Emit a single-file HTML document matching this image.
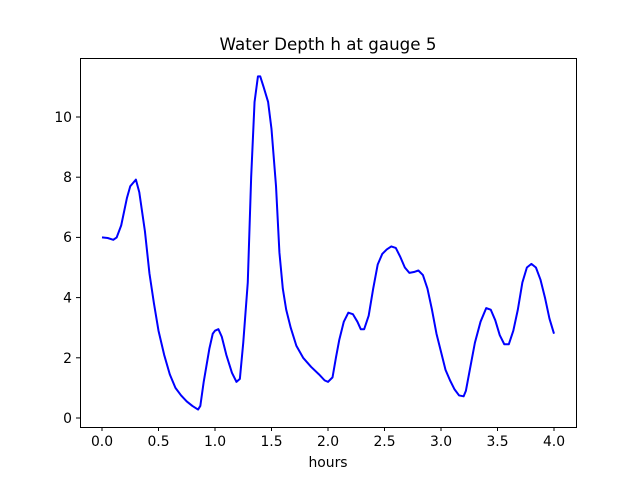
<!DOCTYPE html>
<html><head><style>
body{margin:0;background:#fff;}
text{font-family:"DejaVu Sans","Liberation Sans",sans-serif;fill:#000;}
</style></head><body>
<svg width="640" height="480" xmlns="http://www.w3.org/2000/svg">
<rect width="640" height="480" fill="#fff"/>
<g stroke="#000" stroke-width="1">
<line x1="102" y1="427.5" x2="102" y2="431"/><line x1="158.5" y1="427.5" x2="158.5" y2="431"/>
<line x1="215" y1="427.5" x2="215" y2="431"/><line x1="271.5" y1="427.5" x2="271.5" y2="431"/>
<line x1="328" y1="427.5" x2="328" y2="431"/><line x1="384.5" y1="427.5" x2="384.5" y2="431"/>
<line x1="441" y1="427.5" x2="441" y2="431"/><line x1="497.5" y1="427.5" x2="497.5" y2="431"/>
<line x1="554" y1="427.5" x2="554" y2="431"/>
<line x1="76" y1="418" x2="80" y2="418"/><line x1="76" y1="357.8" x2="80" y2="357.8"/>
<line x1="76" y1="297.6" x2="80" y2="297.6"/><line x1="76" y1="237.4" x2="80" y2="237.4"/>
<line x1="76" y1="177.2" x2="80" y2="177.2"/><line x1="76" y1="117" x2="80" y2="117"/>
</g>
<g font-size="13.9" text-anchor="middle">
<text x="102" y="446">0.0</text><text x="158.5" y="446">0.5</text><text x="215" y="446">1.0</text>
<text x="271.5" y="446">1.5</text><text x="328" y="446">2.0</text><text x="384.5" y="446">2.5</text>
<text x="441" y="446">3.0</text><text x="497.5" y="446">3.5</text><text x="554" y="446">4.0</text>
</g>
<g font-size="13.9" text-anchor="end">
<text x="72" y="423">0</text><text x="72" y="363">2</text><text x="72" y="302.5">4</text>
<text x="72" y="242">6</text><text x="72" y="182">8</text><text x="72" y="122">10</text>
</g>
<text x="328" y="467" font-size="13.9" text-anchor="middle">hours</text>
<text x="328" y="50" font-size="16.7" text-anchor="middle">Water Depth h at gauge 5</text>
<g transform="translate(102,418) scale(113,-30.1)">
<polyline fill="none" stroke="#0000ff" stroke-width="2" vector-effect="non-scaling-stroke" stroke-linejoin="round" points="0,6 0.05,5.98 0.1,5.92 0.13,6 0.17,6.4 0.22,7.3 0.25,7.7 0.3,7.92 0.33,7.5 0.38,6.2 0.42,4.8 0.46,3.8 0.5,2.9 0.55,2.1 0.6,1.45 0.65,1 0.7,0.75 0.75,0.55 0.8,0.4 0.85,0.28 0.87,0.4 0.9,1.2 0.95,2.3 0.98,2.8 1,2.9 1.03,2.95 1.06,2.7 1.1,2.1 1.15,1.5 1.19,1.2 1.22,1.3 1.25,2.5 1.29,4.5 1.32,8 1.35,10.5 1.38,11.35 1.4,11.35 1.43,11 1.47,10.5 1.5,9.6 1.54,7.7 1.57,5.5 1.6,4.3 1.63,3.6 1.67,3 1.72,2.4 1.78,2 1.85,1.7 1.92,1.45 1.97,1.25 2,1.2 2.04,1.35 2.07,2 2.1,2.6 2.14,3.2 2.18,3.5 2.22,3.45 2.26,3.2 2.29,2.95 2.32,2.95 2.36,3.4 2.4,4.3 2.44,5.1 2.48,5.45 2.52,5.6 2.56,5.7 2.6,5.65 2.64,5.35 2.68,5 2.72,4.82 2.76,4.85 2.8,4.9 2.84,4.75 2.88,4.3 2.92,3.6 2.96,2.8 3,2.2 3.04,1.6 3.08,1.25 3.12,0.95 3.16,0.75 3.2,0.72 3.22,0.9 3.25,1.5 3.3,2.5 3.35,3.2 3.4,3.65 3.44,3.6 3.48,3.25 3.52,2.75 3.56,2.45 3.6,2.45 3.64,2.9 3.68,3.6 3.72,4.5 3.76,5 3.8,5.12 3.84,5 3.88,4.6 3.92,4 3.96,3.3 4,2.8"/>
</g>
<rect x="80.5" y="58.5" width="496" height="369" fill="none" stroke="#000" stroke-width="1"/>
</svg>
</body></html>
